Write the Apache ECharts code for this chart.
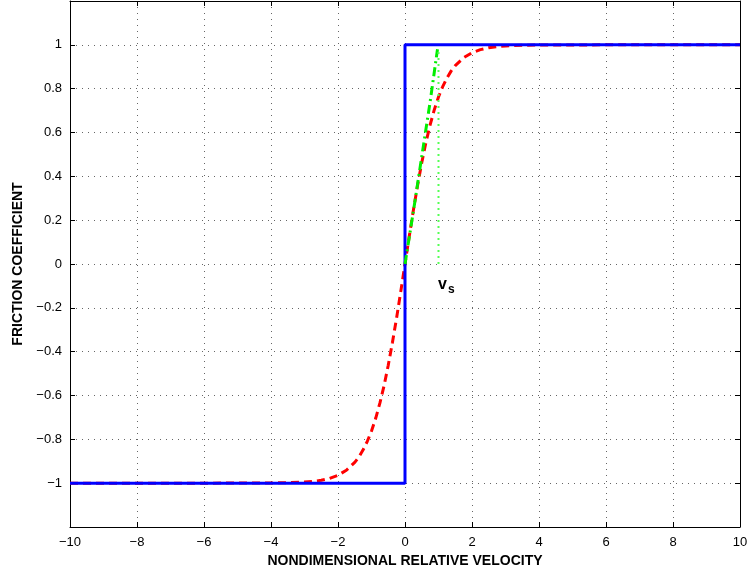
<!DOCTYPE html>
<html>
<head>
<meta charset="utf-8">
<script src="https://cdn.jsdelivr.net/npm/echarts@6/dist/echarts.min.js"></script>
<style>
  html, body { margin: 0; padding: 0; background: #fff; }
  #chart { width: 751px; height: 573px; }
</style>
</head>
<body>
<div id="chart"></div>
<script>
// values
const stepCurve = [[-10, -1], [0, -1], [0, 1], [10, 1]];
const smoothX = [-10, -6, -4, -3.5, -3, -2.75, -2.5, -2.25, -2, -1.75, -1.5, -1.375, -1.25, -1.125, -1,
                 -0.875, -0.75, -0.625, -0.5, -0.375, -0.25, -0.125, 0,
                 0.125, 0.25, 0.375, 0.5, 0.625, 0.75, 0.875, 1, 1.125, 1.25, 1.375, 1.5,
                 1.75, 2, 2.25, 2.5, 2.75, 3, 3.5, 4, 6, 10];
const smoothY = [-1, -1, -0.999, -0.998, -0.995, -0.992, -0.987, -0.978, -0.964, -0.941, -0.905, -0.880, -0.848, -0.809, -0.762,
                 -0.704, -0.635, -0.555, -0.462, -0.358, -0.245, -0.124, 0,
                 0.124, 0.245, 0.358, 0.462, 0.555, 0.635, 0.704, 0.762, 0.809, 0.848, 0.880, 0.905,
                 0.941, 0.964, 0.978, 0.987, 0.992, 0.995, 0.998, 0.999, 1, 1];
const linearX = [0, 0.25, 0.5, 0.75, 0.97];
const linearY = [0, 0.24, 0.49, 0.74, 0.98];
const vsLine = [[1, 0], [1, 0.98]];

const font = 'Liberation Sans, Arial, Helvetica, sans-serif';
const minus = s => String(s).replace('-', '\u2212');

let chart = echarts.init(document.getElementById('chart'), null, {renderer: 'canvas'});

const dotted = {show: true, lineStyle: {color: '#666', width: 1, type: [1, 5]}};
const box = {show: true, onZero: false, lineStyle: {color: '#000', width: 1}};
const tick = {show: true, inside: true, length: 5, lineStyle: {color: '#000'}};

let option = {
  animation: false,
  grid: {left: 70, right: 11, top: 1, bottom: 44, containLabel: false},
  xAxis: [
    {
      type: 'value', min: -10, max: 10, interval: 2, position: 'bottom',
      axisLine: box, axisTick: tick, splitLine: dotted,
      axisLabel: {color: '#000', fontSize: 13, fontFamily: font, margin: 9,
        formatter: v => minus(v)},
      name: 'NONDIMENSIONAL RELATIVE VELOCITY', nameLocation: 'middle', nameGap: 27,
      nameTextStyle: {color: '#000', fontSize: 14, fontWeight: 'bold', fontFamily: font}
    },
    {
      type: 'value', min: -10, max: 10, interval: 2, position: 'top',
      axisLine: box, axisTick: tick, splitLine: {show: false}, axisLabel: {show: false}
    }
  ],
  yAxis: [
    {
      type: 'value', min: -1.2, max: 1.2, interval: 0.2, position: 'left',
      axisLine: box, axisTick: tick, splitLine: dotted,
      axisLabel: {color: '#000', fontSize: 13, fontFamily: font, margin: 8,
        formatter: v => Math.abs(v) > 1.1 ? '' : minus(+v.toFixed(1))},
      name: 'FRICTION COEFFICIENT', nameLocation: 'middle', nameGap: 41,
      nameTextStyle: {color: '#000', fontSize: 14, fontWeight: 'bold', fontFamily: font}
    },
    {
      type: 'value', min: -1.2, max: 1.2, interval: 0.2, position: 'right',
      axisLine: box, axisTick: tick, splitLine: {show: false}, axisLabel: {show: false}
    }
  ],
  series: [
    {
      // smooth friction law
      type: 'line', showSymbol: false,
      data: smoothX.map((x, i) => [x, smoothY[i]]),
      lineStyle: {color: '#ff0000', width: 3, type: [8, 5]}
    },
    {
      // Coulomb step
      type: 'line', showSymbol: false, data: stepCurve,
      lineStyle: {color: '#0000ff', width: 3}
    },
    {
      // linear approximation
      type: 'line', showSymbol: false,
      data: linearX.map((x, i) => [x, linearY[i]]),
      lineStyle: {color: '#00ee00', width: 3, type: [9, 4, 2, 4]}
    },
    {
      type: 'line', showSymbol: false, data: vsLine,
      lineStyle: {color: '#55ff55', width: 2, type: [2, 4]}
    }
  ],
  graphic: [
    {
      type: 'text', left: 438, top: 277,
      style: {
        text: '{v|v}{s|s}',
        rich: {
          v: {fontSize: 16, fontWeight: 'bold', fontFamily: font, fill: '#000'},
          s: {fontSize: 12, fontWeight: 'bold', fontFamily: font, fill: '#000', padding: [10, 0, 0, 1]}
        }
      }
    }
  ]
};
chart.setOption(option);
</script>
</body>
</html>
